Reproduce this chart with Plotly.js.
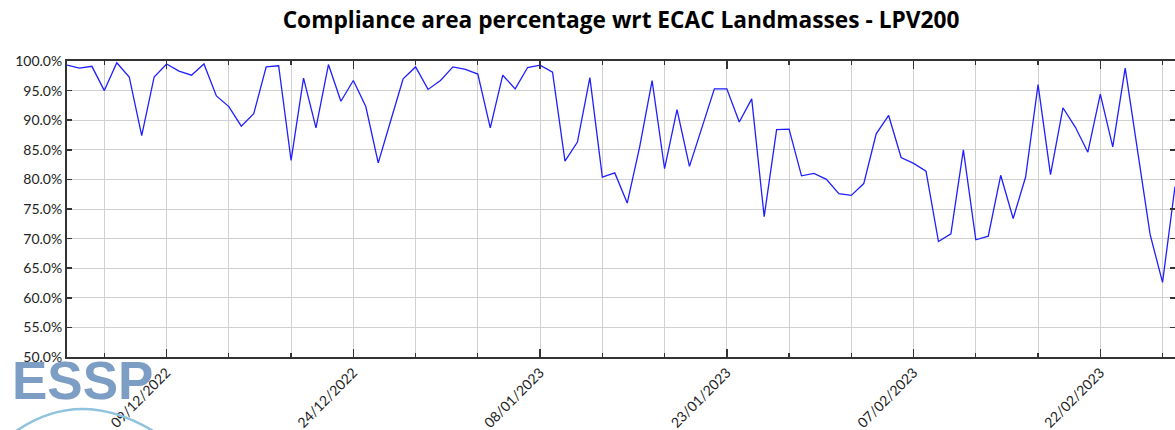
<!DOCTYPE html>
<html>
<head>
<meta charset="utf-8">
<script src="https://cdn.plot.ly/plotly-3.0.1.min.js"></script>
<style>
html,body{margin:0;padding:0;background:#fff;}
#chart{width:1175px;height:430px;}
</style>
</head>
<body>
<div id="chart"></div>
<script>
// ---- Data (daily compliance %) ----
const startDate = '2022-12-01';
const compliance = [
  99.3, 98.8, 99.1, 95.0, 99.7, 97.3, 87.4, 97.3, 99.5, 98.3,
  97.6, 99.5, 94.1, 92.3, 89.0, 91.1, 99.0, 99.2, 83.2, 97.1,
  88.7, 99.4, 93.2, 96.7, 92.3, 82.8, 89.9, 97.0, 99.0, 95.2,
  96.7, 99.0, 98.6, 97.8, 88.7, 97.6, 95.3, 98.9, 99.3, 98.1,
  83.1, 86.3, 97.2, 80.4, 81.1, 76.0, 85.5, 96.7, 81.8, 91.8,
  82.2, 88.9, 95.3, 95.3, 89.7, 93.6, 73.7, 88.4, 88.5, 80.6,
  81.0, 80.0, 77.6, 77.3, 79.3, 87.7, 90.8, 83.7, 82.7, 81.4,
  69.5, 70.8, 85.0, 69.8, 70.4, 80.7, 73.4, 80.4, 96.0, 80.8,
  92.1, 88.8, 84.6, 94.4, 85.5, 98.8, 84.6, 70.7, 62.6, 78.8
];
const tickDates = ['2022-12-09','2022-12-24','2023-01-08','2023-01-23','2023-02-07','2023-02-22'];
const tickLabels = ['09/12/2022','24/12/2022','08/01/2023','23/01/2023','07/02/2023','22/02/2023'];
const xRange = ['2022-12-01','2023-02-28'];
const yRange = [50, 100];

function dayString(start, offset){
  const d = new Date(start + 'T00:00:00Z');
  d.setUTCDate(d.getUTCDate() + offset);
  return d.toISOString().slice(0,10);
}
const dates = compliance.map((_, i) => dayString(startDate, i));

const font = 'Lato, "Open Sans", sans-serif';

const trace = {
  x: dates, y: compliance, type: 'scatter', mode: 'lines',
  line: {color: '#1f1fff', width: 1.3},
  hoverinfo: 'skip'
};

// logo placement helpers (pixel -> paper)
const PL = 67, PW = 1108, PB = 357, PH = 296;
const px = v => (v - PL) / PW;
const py = v => (PB - v) / PH;

const layout = {
  width: 1175, height: 430,
  margin: {l: 67, r: 0, t: 61, b: 73},
  paper_bgcolor: '#fff', plot_bgcolor: '#fff',
  showlegend: false,
  title: {
    text: 'Compliance area percentage wrt ECAC Landmasses - LPV200',
    font: {family: '"Open Sans", Lato, sans-serif', size: 22.7, color: '#000', weight: 'bold'},
    x: 0.5, xref: 'paper', xanchor: 'center',
    y: 0.953, yref: 'container', yanchor: 'middle'
  },
  xaxis: {
    type: 'date', range: xRange,
    tickmode: 'array', tickvals: tickDates, ticktext: tickLabels,
    tickangle: -45,
    tickfont: {family: font, size: 14, color: '#222'},
    ticks: 'inside', ticklen: 8, tickwidth: 1.5, tickcolor: '#333',
    showgrid: true, gridcolor: '#d0d0d0', gridwidth: 1,
    showline: true, linecolor: '#333', linewidth: 2, mirror: 'allticks',
    zeroline: false,
    minor: {
      tick0: '2022-12-04', dtick: 432000000,
      ticks: 'inside', ticklen: 4, tickwidth: 1.2, tickcolor: '#333',
      showgrid: true, gridcolor: '#d0d0d0', gridwidth: 1
    }
  },
  yaxis: {
    range: yRange, dtick: 5, tick0: 50,
    tickformat: '.1f', ticksuffix: '%',
    tickfont: {family: font, size: 14, color: '#222'},
    ticks: 'inside', ticklen: 5, tickwidth: 1.5, tickcolor: '#333',
    showgrid: true, gridcolor: '#d0d0d0', gridwidth: 1,
    showline: true, linecolor: '#333', linewidth: 2, mirror: 'allticks',
    zeroline: false
  },
  annotations: [{
    text: '<b>ESSP</b>', showarrow: false,
    xref: 'paper', yref: 'paper',
    x: px(82), y: py(380),
    xanchor: 'center', yanchor: 'middle',
    font: {family: '"Liberation Sans", Arial, sans-serif', size: 53, color: 'rgba(110,146,190,0.9)'}
  }],
  shapes: [{
    type: 'path', xref: 'paper', yref: 'paper',
    path: 'M ' + px(12) + ',' + py(434) +
          ' Q ' + px(80) + ',' + py(384) +
          ' ' + px(158) + ',' + py(434),
    line: {color: '#8fc3de', width: 2.5}, layer: 'above'
  }]
};

Plotly.newPlot('chart', [trace], layout, {displayModeBar: false, staticPlot: true});
</script>
</body>
</html>
